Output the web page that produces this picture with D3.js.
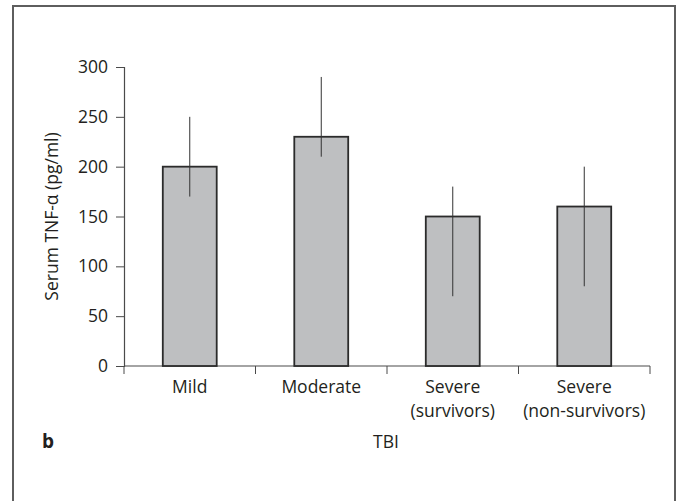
<!DOCTYPE html>
<html>
<head>
<meta charset="utf-8">
<script src="https://cdn.jsdelivr.net/npm/d3@7"></script>
<style>
  body { margin: 0; background: #fff; }
  text { font-family: "Open Sans", sans-serif; fill: #231f20; }
</style>
</head>
<body>
<div id="wrap"></div>
<script>
// values
var groups = ["Mild", "Moderate", "Severe (survivors)", "Severe (non-survivors)"];
var labelLines = [["Mild"], ["Moderate"], ["Severe", "(survivors)"], ["Severe", "(non-survivors)"]];
var means = [200, 230, 150, 160];
var errLow = [170, 210, 70, 80];
var errHigh = [250, 290, 180, 200];
var yTicks = [0, 50, 100, 150, 200, 250, 300];

var bar_fill = "#bebfc1";
var ink = "#2b2b2b";
var font_size = "17.5px";

var svg = d3.select('#wrap')
  .append('svg')
  .attr("width", 678)
  .attr("height", 501)

// panel frame (runs off the bottom)
svg.append("rect")
  .attr("x", 13)
  .attr("y", 6)
  .attr("width", 662)
  .attr("height", 520)
  .attr("fill", "none")
  .attr("stroke", "#5e5e5e")
  .attr("stroke-width", 2)

var plotL = 124, plotR = 650, plotT = 67, plotB = 366;

var x = d3.scaleBand()
  .domain(groups)
  .range([plotL, plotR])
  .paddingInner(0)
  .paddingOuter(0)

var y = d3.scaleLinear()
  .domain([0, 300])
  .range([plotB, plotT])

var barW = x.bandwidth() * 0.41;

// y axis
var yAxis = svg.append("g")
  .attr("transform", "translate(" + plotL + ",0)")
  .call(d3.axisLeft(y).tickValues(yTicks).tickSize(8).tickPadding(8))
yAxis.select(".domain").attr("stroke", "#4a4a4a").attr("stroke-width", 1.2)
yAxis.selectAll(".tick line").attr("stroke", "#4a4a4a")
yAxis.selectAll("text")
  .style("font-family", '"Open Sans", sans-serif')
  .style("font-size", font_size)
  .attr("fill", "#231f20")

// x axis line and boundary ticks
svg.append("line")
  .attr("x1", plotL).attr("x2", plotR)
  .attr("y1", y(0)).attr("y2", y(0))
  .attr("stroke", "#4a4a4a").attr("stroke-width", 1.2)

var bounds = groups.map(function (g) { return x(g); }).concat([plotR]);
svg.selectAll(".xtick")
  .data(bounds)
  .enter().append("line")
  .attr("x1", function (d) { return d; })
  .attr("x2", function (d) { return d; })
  .attr("y1", y(0))
  .attr("y2", y(0) + 8)
  .attr("stroke", "#4a4a4a")

// bars
svg.selectAll(".bar")
  .data(means)
  .enter().append("rect")
  .attr("x", function (d, i) { return x(groups[i]) + x.bandwidth() / 2 - barW / 2; })
  .attr("y", function (d) { return y(d); })
  .attr("width", barW)
  .attr("height", function (d) { return y(0) - y(d); })
  .attr("fill", bar_fill)
  .attr("stroke", ink)
  .attr("stroke-width", 1.8)

// error bars, no caps
svg.selectAll(".err")
  .data(groups)
  .enter().append("line")
  .attr("x1", function (d) { return x(d) + x.bandwidth() / 2; })
  .attr("x2", function (d) { return x(d) + x.bandwidth() / 2; })
  .attr("y1", function (d, i) { return y(errHigh[i]); })
  .attr("y2", function (d, i) { return y(errLow[i]); })
  .attr("stroke", "#333")
  .attr("stroke-width", 1)

// category labels
svg.selectAll(".cat")
  .data(labelLines)
  .enter().append("text")
  .attr("text-anchor", "middle")
  .style("font-size", font_size)
  .each(function (lines, i) {
    var t = d3.select(this);
    lines.forEach(function (s, k) {
      t.append("tspan")
        .attr("x", x(groups[i]) + x.bandwidth() / 2)
        .attr("y", 393 + k * 24)
        .text(s);
    });
  })

svg.append("text")
  .attr("x", 386)
  .attr("y", 448)
  .attr("text-anchor", "middle")
  .style("font-size", font_size)
  .text("TBI")

svg.append("text")
  .attr("x", 42)
  .attr("y", 448)
  .style("font-size", "19px")
  .style("font-weight", "bold")
  .text("b")

svg.append("text")
  .attr("transform", "translate(58," + ((plotT + plotB) / 2) + ") rotate(-90)")
  .attr("text-anchor", "middle")
  .style("font-size", font_size)
  .text("Serum TNF-α (pg/ml)")
</script>
</body>
</html>
